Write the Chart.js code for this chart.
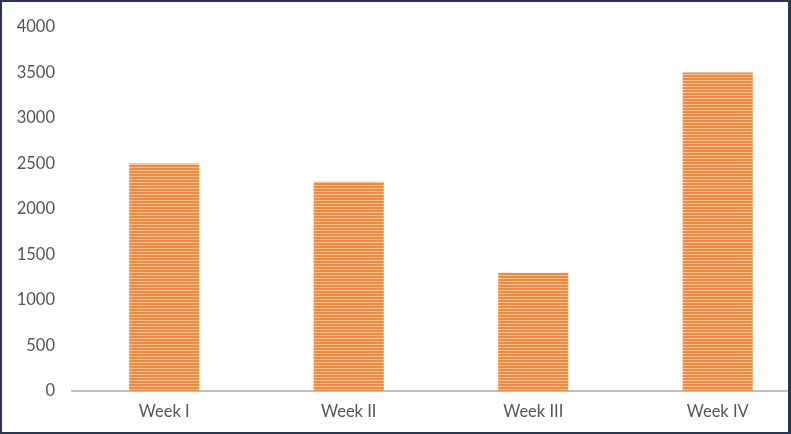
<!DOCTYPE html>
<html>
<head>
<meta charset="utf-8">
<script src="https://cdn.jsdelivr.net/npm/chart.js@4"></script>
<style>
html,body{margin:0;padding:0;background:#fff;overflow:hidden;}
#wrap{position:relative;width:791px;height:434px;overflow:hidden;background:#fff;}
#inner{position:absolute;left:0;top:0;width:810px;height:434px;}
#frame{position:absolute;left:0;top:0;width:791px;height:434px;box-sizing:border-box;border:2px solid #2a3750;border-right-width:3px;pointer-events:none;}
</style>
</head>
<body>
<div id="wrap">
  <div id="inner"><canvas id="c" width="810" height="434"></canvas></div>
  <div id="frame"></div>
</div>
<script>
const categories = ["Week I", "Week II", "Week III", "Week IV"];
const values = [2500, 2300, 1300, 3500];
const yTicks = [0, 500, 1000, 1500, 2000, 2500, 3000, 3500, 4000];

function stripePattern() {
  const p = document.createElement('canvas');
  p.width = 4; p.height = 3;
  const g = p.getContext('2d');
  g.fillStyle = '#f5873a';
  g.fillRect(0, 0, 4, 2);
  g.fillStyle = '#fcc49a';
  g.fillRect(0, 2, 4, 1);
  return g.createPattern(p, 'repeat');
}

const ctx = document.getElementById('c').getContext('2d');
const fill = stripePattern();
new Chart(ctx, {
  type: 'bar',
  data: {
    labels: categories,
    datasets: [{
      data: values,
      backgroundColor: fill,
      borderWidth: 0,
      categoryPercentage: 1,
      barPercentage: 0.38
    }]
  },
  options: {
    responsive: false,
    animation: false,
    devicePixelRatio: 1,
    layout: { padding: { top: 24, right: 0, bottom: 0, left: 0 } },
    plugins: { legend: { display: false }, tooltip: { enabled: false } },
    scales: {
      x: {
        grid: { display: false, drawTicks: false },
        border: { display: true, color: '#bfbfbf', width: 2 },
        ticks: { color: '#555555', font: { family: 'Lato', size: 16.5 }, padding: 11 },
        afterFit: (s) => { s.height = 43; }
      },
      y: {
        min: 0, max: 4000,
        afterBuildTicks: (s) => { s.ticks = yTicks.map(v => ({ value: v })); },
        grid: { display: false, drawTicks: false },
        border: { display: false },
        ticks: { color: '#555555', font: { family: 'Lato', size: 16.5 }, padding: 17,
                 callback: (v) => String(v) },
        afterFit: (s) => { s.width = 72; }
      }
    }
  }
});
</script>
</body>
</html>
